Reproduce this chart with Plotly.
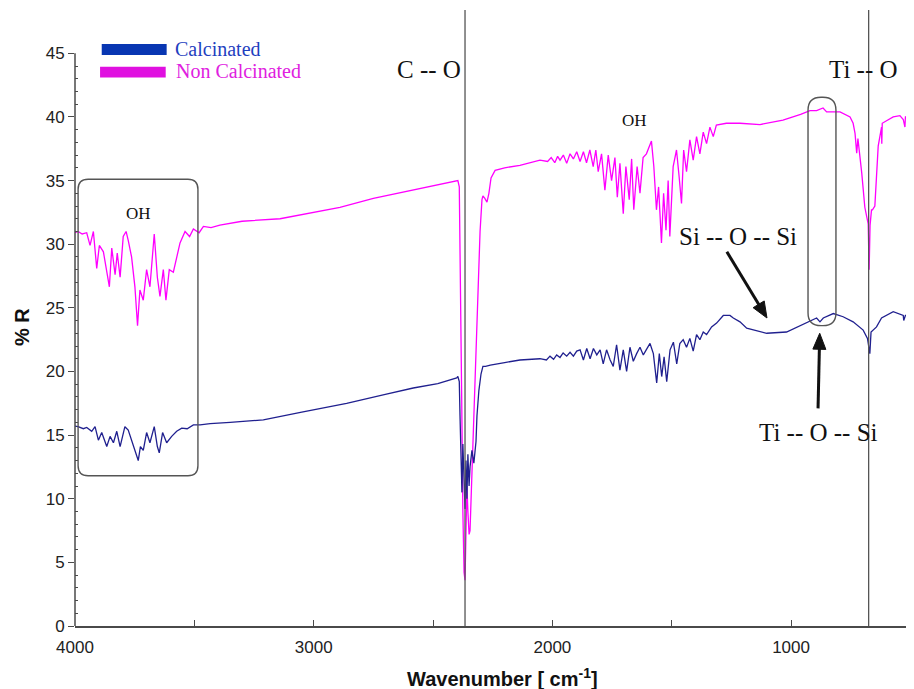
import math
import plotly.graph_objects as go

# ---------------- data ----------------
nc_wavenumber = [
    4000, 3987, 3970, 3951, 3937, 3923, 3909, 3898, 3881, 3867, 3856, 3846, 3832, 3823, 3811,
    3798, 3786, 3777, 3763, 3749, 3738, 3728, 3714, 3700, 3686, 3668, 3655, 3644, 3630, 3619,
    3605, 3588, 3571, 3560, 3539, 3520, 3504, 3480, 3462, 3430, 3393, 3300, 3141, 3000, 2890,
    2750, 2584, 2480, 2401, 2396, 2390, 2385, 2380, 2375, 2370, 2366, 2362, 2358, 2354, 2349,
    2345, 2337, 2329, 2320, 2312, 2303, 2295, 2291, 2283, 2274, 2266, 2257, 2240, 2200, 2136,
    2052, 2020, 2005, 1990, 1978, 1968, 1954, 1940, 1926, 1912, 1898, 1884, 1870, 1857, 1843,
    1829, 1818, 1808, 1794, 1780, 1766, 1752, 1738, 1728, 1717, 1703, 1692, 1678, 1668, 1659,
    1645, 1633, 1620, 1606, 1595, 1585, 1575, 1564, 1555, 1543, 1534, 1524, 1515, 1508, 1494,
    1480, 1469, 1459, 1450, 1438, 1424, 1410, 1396, 1382, 1368, 1354, 1340, 1326, 1313, 1271,
    1214, 1130, 1034, 960, 921, 893, 866, 851, 795, 753, 740, 732, 725, 720, 704,
    691, 677, 673, 669, 663, 659, 649, 635, 621, 620, 618, 600, 572, 544, 530,
    523, 521, 505, 485,
]
nc_reflectance = [
    30.9, 31.0, 30.8, 30.9, 29.9, 31.0, 28.1, 29.9, 29.4, 28.0, 26.65, 29.7, 27.6, 29.3, 27.4,
    30.6, 31.0, 30.3, 29.0, 26.65, 23.6, 26.4, 25.6, 28.0, 26.65, 30.8, 27.4, 25.9, 28.0, 25.6,
    28.0, 27.8, 29.3, 30.1, 31.0, 30.6, 31.2, 30.9, 31.4, 31.3, 31.5, 31.8, 32.0, 32.5, 32.9,
    33.6, 34.25, 34.7, 35.0, 35.0, 34.5, 28.0, 18.0, 9.0, 4.2, 3.6, 8.0, 11.0, 9.0, 7.2,
    7.5, 12.0, 17.0, 22.0, 27.0, 31.0, 33.5, 33.8, 33.6, 33.3, 34.0, 35.2, 35.8, 36.0, 36.2,
    36.6, 36.5, 36.8, 36.4, 36.9, 36.6, 37.0, 36.35, 37.1, 36.7, 37.26, 36.5, 37.26, 36.4, 37.4,
    36.1, 37.4, 35.7, 37.1, 34.25, 37.0, 35.0, 36.8, 33.7, 36.35, 32.4, 36.1, 33.5, 36.7, 32.7,
    36.1, 34.0, 36.8, 37.1, 37.7, 38.1, 36.1, 32.7, 34.5, 30.1, 34.0, 31.1, 35.0, 30.6, 36.1,
    37.4, 35.3, 33.2, 37.4, 35.7, 38.2, 36.6, 38.45, 37.1, 38.8, 37.9, 39.2, 38.45, 39.35, 39.5,
    39.5, 39.4, 39.75, 40.2, 40.5, 40.5, 40.7, 40.4, 40.4, 40.0, 39.5, 38.7, 37.15, 38.3, 35.6,
    32.9, 31.6, 28.0, 31.5, 32.7, 32.7, 33.0, 37.7, 39.2, 37.9, 39.5, 39.7, 40.0, 40.1, 39.8,
    39.2, 40.0, 40.1, 40.2,
]

c_wavenumber = [
    4000, 3987, 3965, 3951, 3930, 3916, 3902, 3888, 3867, 3853, 3839, 3825, 3811, 3791, 3777,
    3763, 3749, 3735, 3726, 3714, 3700, 3686, 3668, 3655, 3647, 3633, 3616, 3595, 3574, 3553,
    3530, 3504, 3476, 3434, 3350, 3211, 3050, 2862, 2700, 2583, 2480, 2401, 2396, 2390, 2387,
    2383, 2379, 2375, 2370, 2366, 2362, 2358, 2354, 2349, 2345, 2337, 2329, 2320, 2316, 2308,
    2299, 2291, 2280, 2260, 2200, 2136, 2052, 2025, 2010, 1995, 1982, 1968, 1955, 1940, 1926,
    1912, 1898, 1884, 1870, 1856, 1842, 1828, 1814, 1800, 1787, 1773, 1758, 1745, 1731, 1717,
    1703, 1689, 1675, 1661, 1647, 1633, 1619, 1605, 1591, 1577, 1563, 1552, 1542, 1532, 1521,
    1507, 1493, 1479, 1466, 1452, 1438, 1424, 1410, 1396, 1382, 1368, 1354, 1333, 1312, 1284,
    1256, 1242, 1214, 1186, 1102, 1019, 935, 893, 879, 865, 823, 782, 740, 698, 680,
    673, 670, 665, 642, 621, 586, 572, 530, 528, 521, 489, 485,
]
c_reflectance = [
    15.7, 15.66, 15.5, 15.6, 15.3, 15.66, 14.6, 15.2, 14.1, 14.9, 14.4, 15.3, 14.1, 15.66, 15.4,
    14.6, 13.8, 13.0, 14.1, 13.8, 15.2, 14.4, 15.66, 14.1, 13.6, 15.2, 14.4, 14.9, 15.3, 15.55,
    15.5, 15.8, 15.8, 15.9, 16.0, 16.2, 16.8, 17.5, 18.2, 18.7, 19.05, 19.5, 19.6, 19.2, 16.5,
    13.0, 10.5, 14.3, 11.5, 9.2, 13.0, 10.0, 13.5, 11.0, 12.5, 13.8, 12.8, 14.5, 16.5, 18.5,
    19.8, 20.4, 20.4, 20.5, 20.7, 20.9, 21.0, 20.9, 21.2, 20.95, 21.3, 21.1, 21.45, 21.2, 21.5,
    21.2, 21.6, 21.7, 20.9, 21.8, 21.0, 21.8, 21.3, 21.7, 20.6, 21.7, 20.9, 20.4, 22.1, 20.1,
    21.7, 20.0, 21.9, 20.8, 21.4, 21.9, 21.3, 21.7, 22.2, 21.4, 19.1, 21.4, 19.6, 21.15, 19.2,
    21.7, 22.3, 20.6, 22.2, 22.5, 21.9, 22.6, 21.6, 22.9, 22.5, 23.1, 22.9, 23.5, 23.8, 24.4,
    24.4, 24.2, 23.9, 23.4, 23.0, 23.1, 23.8, 24.2, 23.9, 24.2, 24.55, 24.3, 23.9, 23.25, 22.6,
    21.5, 21.4, 23.1, 23.5, 24.2, 24.55, 24.7, 24.4, 24.0, 24.4, 24.4, 24.3,
]

series_names = ["Calcinated", "Non Calcinated"]
x_tick_values = [4000, 3000, 2000, 1000]
y_tick_values = [0, 5, 10, 15, 20, 25, 30, 35, 40, 45]

# ---------------- layout constants ----------------
# the page body has an 8px margin, so the figure is made 8px smaller
W, H = 906, 681
ML, MR, MT, MB = 67, 0, 2, 63
X_RANGE = [4000, 485]
Y_RANGE = [0, 48.4]
PX_PER_WN = (W - ML - MR) / (X_RANGE[0] - X_RANGE[1])
PX_PER_R = (H - MT - MB) / (Y_RANGE[1] - Y_RANGE[0])

BLUE_LINE = "#20208f"
MAGENTA_LINE = "#ff00ff"
SERIF = "Liberation Serif, Times New Roman, serif"
SANS = "Liberation Sans, Arial, sans-serif"
GREY = "#4a4a4a"

fig = go.Figure()
fig.add_trace(go.Scatter(x=nc_wavenumber, y=nc_reflectance, mode="lines",
                         line=dict(color=MAGENTA_LINE, width=1.3), name=series_names[1]))
fig.add_trace(go.Scatter(x=c_wavenumber, y=c_reflectance, mode="lines",
                         line=dict(color=BLUE_LINE, width=1.3), name=series_names[0]))


def rounded_box(left, right, bottom, top, r_px):
    rx = r_px / PX_PER_WN
    ry = r_px / PX_PER_R
    p = (f"M {left - rx},{top} L {right + rx},{top} Q {right},{top} {right},{top - ry} "
         f"L {right},{bottom + ry} Q {right},{bottom} {right + rx},{bottom} "
         f"L {left - rx},{bottom} Q {left},{bottom} {left},{bottom + ry} "
         f"L {left},{top - ry} Q {left},{top} {left - rx},{top} Z")
    return dict(type="path", path=p, xref="x", yref="y",
                line=dict(color="#555555", width=1.4), layer="above")


def arrow(tail, head, head_len=16, head_half=6.5, width=3, color="#111111"):
    # work in pixel space (x to the right, y up), convert back to data units
    tx, ty = -tail[0] * PX_PER_WN, tail[1] * PX_PER_R
    hx, hy = -head[0] * PX_PER_WN, head[1] * PX_PER_R
    d = math.hypot(hx - tx, hy - ty)
    ux, uy = (hx - tx) / d, (hy - ty) / d
    bx, by = hx - ux * head_len, hy - uy * head_len
    px, py = -uy, ux
    pts = [(hx, hy), (bx + px * head_half, by + py * head_half),
           (bx - px * head_half, by - py * head_half)]
    to_data = lambda X, Y: (-X / PX_PER_WN, Y / PX_PER_R)
    dp = [to_data(*p) for p in pts]
    sx, sy = to_data(bx + ux * 2, by + uy * 2)
    shaft = dict(type="line", xref="x", yref="y", x0=tail[0], y0=tail[1], x1=sx, y1=sy,
                 line=dict(color=color, width=width), layer="above")
    tri = dict(type="path", xref="x", yref="y",
               path=f"M {dp[0][0]},{dp[0][1]} L {dp[1][0]},{dp[1][1]} L {dp[2][0]},{dp[2][1]} Z",
               fillcolor=color, line=dict(color=color, width=1), layer="above")
    return [shaft, tri]


shapes = [
    # vertical marker lines
    dict(type="line", xref="x", yref="paper", x0=2366, x1=2366, y0=0, y1=1,
         line=dict(color="#555555", width=1.3)),
    dict(type="line", xref="x", yref="paper", x0=675, x1=675, y0=0, y1=1,
         line=dict(color="#555555", width=1.3)),
    # y axis line (only up to 45)
    dict(type="line", xref="paper", yref="y", x0=0, x1=0, y0=0, y1=45,
         line=dict(color=GREY, width=1.5)),
    # boxes
    rounded_box(3987, 3485, 11.8, 35.1, 10),
    rounded_box(929, 812, 23.6, 41.55, 13),
    # legend swatches
    dict(type="rect", xref="x", yref="y", x0=3888, x1=3616, y0=44.87, y1=45.72,
         fillcolor="#0836b2", line=dict(width=0)),
    dict(type="rect", xref="x", yref="y", x0=3895, x1=3620, y0=43.1, y1=43.95,
         fillcolor="#e010e0", line=dict(width=0)),
]
shapes += arrow((1269, 29.4), (1101, 24.2))
shapes += arrow((887, 17.1), (880, 23.0))

annotations = [
    dict(x=3589, y=45.35, text=series_names[0], font=dict(family=SERIF, size=20, color="#1f3fbf")),
    dict(x=3585, y=43.6, text=series_names[1], font=dict(family=SERIF, size=20, color="#e020e0")),
    dict(x=2515, y=43.7, text="C -- O", font=dict(family=SERIF, size=25, color="#111")),
    dict(x=695, y=43.7, text="Ti -- O", font=dict(family=SERIF, size=25, color="#111")),
    dict(x=3736, y=32.4, text="OH", font=dict(family=SERIF, size=17, color="#111")),
    dict(x=1658, y=39.7, text="OH", font=dict(family=SERIF, size=17, color="#111")),
    dict(x=1222, y=30.6, text="Si -- O -- Si", font=dict(family=SERIF, size=25, color="#111")),
    dict(x=887, y=15.2, text="Ti -- O -- Si", font=dict(family=SERIF, size=25, color="#111")),
]
for a in annotations:
    a.update(xref="x", yref="y", showarrow=False, xanchor="center", yanchor="middle")
annotations[0].update(xanchor="left")
annotations[1].update(xanchor="left")

# axis titles
annotations += [
    dict(x=-0.063, y=23.5, xref="paper", yref="y", text="<b>% R</b>", textangle=-90,
         showarrow=False, font=dict(family=SANS, size=20, color="#111"),
         xanchor="center", yanchor="middle"),
    dict(x=2211, y=-0.084, xref="x", yref="paper", text="<b>Wavenumber [ cm<sup>-1</sup>]</b>",
         showarrow=False, font=dict(family=SANS, size=20, color="#111"),
         xanchor="center", yanchor="middle"),
]

minor_y = [v for v in range(1, 45) if v % 5 != 0]

fig.update_layout(
    width=W, height=H,
    margin=dict(l=ML, r=MR, t=MT, b=MB, pad=0),
    paper_bgcolor="white", plot_bgcolor="white",
    showlegend=False,
    shapes=shapes,
    annotations=annotations,
    xaxis=dict(range=X_RANGE, showgrid=False, zeroline=False,
               showline=True, linecolor=GREY, linewidth=1.5,
               tickmode="array", tickvals=x_tick_values,
               ticktext=[str(v) for v in x_tick_values],
               ticks="inside", ticklen=6, tickcolor=GREY, tickwidth=1.2,
               ticklabelstandoff=5,
               minor=dict(tickmode="array", tickvals=[3500, 2500, 1500, 500],
                          ticks="inside", ticklen=6, tickcolor=GREY),
               tickfont=dict(family=SANS, size=17, color="#222")),
    yaxis=dict(range=Y_RANGE, showgrid=False, zeroline=False, showline=False,
               tickmode="array", tickvals=y_tick_values,
               ticktext=[str(v) for v in y_tick_values],
               ticks="outside", ticklen=6, tickcolor=GREY, tickwidth=1.2,
               minor=dict(tickmode="array", tickvals=minor_y, ticks="inside",
                          ticklen=3, tickcolor=GREY),
               tickfont=dict(family=SANS, size=17, color="#222")),
)

fig.write_html("out.html")
